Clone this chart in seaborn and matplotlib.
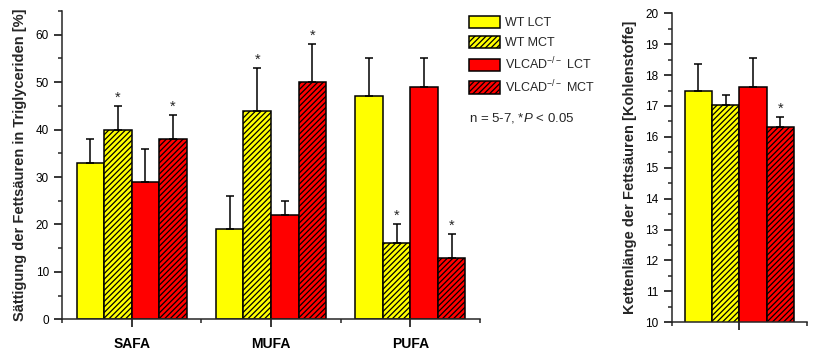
import numpy as np
import pandas as pd
import seaborn as sns
import matplotlib.pyplot as plt
from matplotlib.ticker import MultipleLocator

# data
groups = ["WT LCT", "WT MCT", "VLCAD LCT", "VLCAD MCT"]
legend_labels = ["WT LCT", "WT MCT", "VLCAD$^{-/-}$ LCT", "VLCAD$^{-/-}$ MCT"]
fatty_acids = ["SAFA", "MUFA", "PUFA"]

wt_lct = [33, 19, 47]
wt_mct = [40, 44, 16]
vlcad_lct = [29, 22, 49]
vlcad_mct = [38, 50, 13]

wt_lct_sd = [5, 7, 8]
wt_mct_sd = [5, 9, 4]
vlcad_lct_sd = [7, 3, 6]
vlcad_mct_sd = [5, 8, 5]

wt_lct_sig = [False, False, False]
wt_mct_sig = [True, True, True]
vlcad_lct_sig = [False, False, False]
vlcad_mct_sig = [True, True, True]

chain_len = [17.48, 17.04, 17.60, 16.33]
chain_sd = [0.87, 0.33, 0.96, 0.30]
chain_sig = [False, False, False, True]

colors = ["#ffff00", "#ffff00", "#ff0000", "#ff0000"]
hatches = ["", "//////", "", "//////"]

sns.set_style("ticks")
plt.rcParams["font.family"] = ["Liberation Sans", "DejaVu Sans"]
plt.rcParams["mathtext.fontset"] = "custom"
plt.rcParams["mathtext.rm"] = "Liberation Sans"
plt.rcParams["mathtext.it"] = "Liberation Sans:italic"
plt.rcParams["hatch.linewidth"] = 0.9

df = pd.DataFrame({
    "acid": fatty_acids * 4,
    "group": np.repeat(groups, 3),
    "value": wt_lct + wt_mct + vlcad_lct + vlcad_mct,
})
sds = [wt_lct_sd, wt_mct_sd, vlcad_lct_sd, vlcad_mct_sd]
sigs = [wt_lct_sig, wt_mct_sig, vlcad_lct_sig, vlcad_mct_sig]

df2 = pd.DataFrame({"x": ["all"] * 4, "group": groups, "value": chain_len})

fig = plt.figure(figsize=(8.18, 3.55), dpi=100)
ax1 = fig.add_axes([62 / 818, 1 - 319.3 / 355, 418 / 818, 308.3 / 355])
ax2 = fig.add_axes([671.7 / 818, 1 - 322.3 / 355, 135.3 / 818, 309 / 355])


def style_bars(ax, sd_list, sig_list):
    bar_conts = list(ax.containers)
    for i, cont in enumerate(bar_conts):
        xs, ys = [], []
        for p in cont.patches:
            p.set_facecolor(colors[i])
            p.set_edgecolor("black")
            p.set_linewidth(1.1)
            p.set_hatch(hatches[i])
            xs.append(p.get_x() + p.get_width() / 2)
            ys.append(p.get_height() + p.get_y())
        err = sd_list[i]
        ax.errorbar(xs, ys, yerr=[np.zeros(len(err)), err], fmt="none",
                    ecolor="black", elinewidth=1.1, capsize=3.0, capthick=1.1, zorder=1)
        for x, y, e, s in zip(xs, ys, err, sig_list[i]):
            if s:
                ax.annotate("*", (x, y + e), xytext=(0, 1), textcoords="offset points",
                            ha="center", va="bottom", fontsize=10.5)
    return bar_conts


sns.barplot(data=df, x="acid", y="value", hue="group", hue_order=groups,
            order=fatty_acids, width=0.79, gap=0, errorbar=None, ax=ax1,
            legend=False, saturation=1)
bars1 = style_bars(ax1, sds, sigs)

sns.barplot(data=df2, x="x", y="value", hue="group", hue_order=groups,
            width=0.81, errorbar=None, ax=ax2, legend=False, saturation=1)
style_bars(ax2, [[v] for v in chain_sd], [[v] for v in chain_sig])

for ax in (ax1, ax2):
    sns.despine(ax=ax)
    for sp in ("left", "bottom"):
        ax.spines[sp].set_linewidth(1.1)
    ax.tick_params(axis="both", which="major", length=6, width=1.1, direction="out",
                   labelsize=8.5, colors="black")
    ax.tick_params(axis="both", which="minor", length=3, width=1.1, direction="out")
    ax.set_xlabel("")

ax1.set_xlim(-0.5, 2.5)
ax1.set_ylim(0, 65)
ax1.yaxis.set_major_locator(MultipleLocator(10))
ax1.yaxis.set_minor_locator(MultipleLocator(5))
ax1.xaxis.set_minor_locator(MultipleLocator(1, offset=0.5))
ax1.set_yticks(range(0, 61, 10))
ax1.set_xticks(range(len(fatty_acids)))
ax1.set_xticklabels(fatty_acids, fontsize=10, fontweight="bold")
ax1.tick_params(axis="x", which="major", pad=7)
ax1.set_ylabel("Sättigung der Fettsäuren in Triglyceriden [%]", fontsize=10.5,
               fontweight="bold", labelpad=6)

ax2.set_xlim(-0.5, 0.5)
ax2.set_ylim(10, 20)
ax2.yaxis.set_major_locator(MultipleLocator(1))
ax2.yaxis.set_minor_locator(MultipleLocator(0.5))
ax2.xaxis.set_minor_locator(MultipleLocator(1, offset=0.5))
ax2.set_xticks([0])
ax2.set_xticklabels([""])
ax2.set_ylabel("Kettenlänge der Fettsäuren [Kohlenstoffe]", fontsize=10.5,
               fontweight="bold", labelpad=6)

handles = [c.patches[0] for c in bars1]
fig.legend(handles, legend_labels, loc="upper left",
           bbox_to_anchor=(469 / 818, 1 - 16 / 355), frameon=False, fontsize=9,
           handlelength=2.5, handleheight=1.15, labelspacing=0.5,
           handletextpad=0.35, borderpad=0, borderaxespad=0)
fig.text(469 / 818, 1 - 118 / 355, "n = 5-7, *$P$ < 0.05", fontsize=9.5, va="center")

fig.savefig("out.png", dpi=100)
